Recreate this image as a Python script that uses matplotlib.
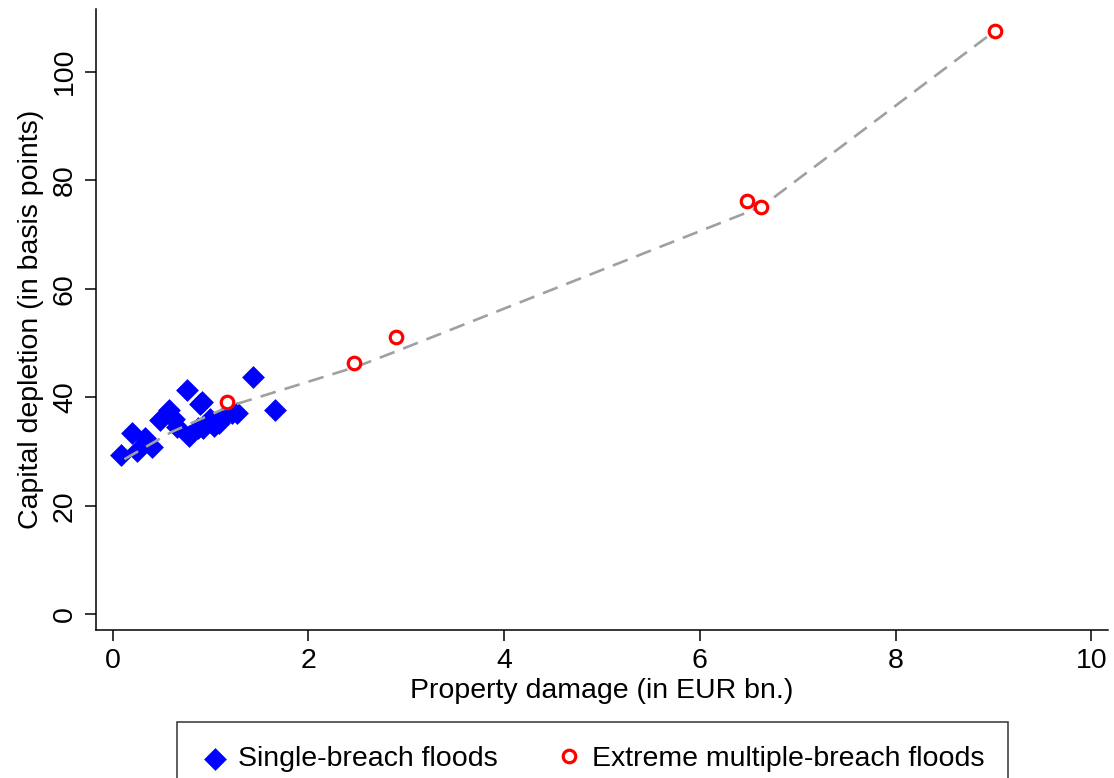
import matplotlib
matplotlib.use('Agg')
import matplotlib.pyplot as plt
import numpy as np

plt.rcParams['font.family'] = ['Liberation Sans', 'DejaVu Sans']

# single-breach floods (EUR bn., basis points)
single_x = [0.09, 0.20, 0.25, 0.33, 0.40, 0.48, 0.58, 0.63, 0.66, 0.76, 0.78,
            0.87, 0.89, 0.91, 0.92, 0.99, 1.04, 1.09, 1.11, 1.22, 1.27, 1.43, 1.66]
single_y = [29.3, 33.4, 30.2, 32.6, 30.8, 35.8, 37.6, 36.1, 34.5, 41.3, 32.8,
            34.3, 38.7, 39.1, 34.3, 36.1, 34.8, 35.2, 36.1, 37.2, 37.1, 43.7, 37.6]

# extreme multiple-breach floods
extreme_x = [1.17, 2.47, 2.89, 6.48, 6.62, 9.02]
extreme_y = [39.2, 46.4, 51.2, 76.1, 75.0, 107.6]

# fitted line
fit_x = [0.12, 0.6, 1.2, 2.5, 2.9, 6.5, 6.65, 9.02]
fit_y = [28.6, 33.6, 38.4, 45.7, 48.5, 74.2, 75.4, 107.6]

fs = 20.5

fig = plt.figure(figsize=(11.14, 7.78), dpi=100)
ax = fig.add_axes([0.0862, 0.190, 0.9084, 0.798])

ax.scatter(single_x, single_y, marker='D', s=135, color='#0000ff',
           linewidths=0, zorder=2, label='Single-breach floods')
ax.plot(fit_x, fit_y, color='#a0a0a0', lw=1.9, dashes=(6, 3.5), zorder=3)
ax.plot(extreme_x, extreme_y, 'o', ms=9.0, mfc='white', mec='#ff0000', mew=2.3,
        ls='none', zorder=4, label='Extreme multiple-breach floods')

ax.set_xlim(-0.17, 10.17)
ax.set_ylim(-2.9, 111.5)
ax.set_xticks(np.arange(0, 11, 2))
ax.set_yticks(np.arange(0, 101, 20))

for s in ['top', 'right']:
    ax.spines[s].set_visible(False)
for s in ['left', 'bottom']:
    ax.spines[s].set_linewidth(1.1)

ax.tick_params(axis='both', direction='out', length=8, width=1.1, labelsize=fs, pad=5)
ax.tick_params(axis='y', labelrotation=90)
for lab in ax.get_yticklabels():
    lab.set_va('center')

ax.set_xlabel('Property damage (in EUR bn.)', fontsize=fs, labelpad=3)
ax.set_ylabel('Capital depletion (in basis points)', fontsize=fs, labelpad=6)

h, l = ax.get_legend_handles_labels()
leg = fig.legend(h, l, loc='upper center', bbox_to_anchor=(0.532, 0.072), ncol=2,
                 fontsize=fs, frameon=True, fancybox=False, edgecolor='black',
                 handletextpad=0.3, columnspacing=2.0, borderpad=0.85, handlelength=1.0,
                 borderaxespad=0)
leg.get_frame().set_linewidth(1.1)

fig.savefig('out.png', dpi=100)
